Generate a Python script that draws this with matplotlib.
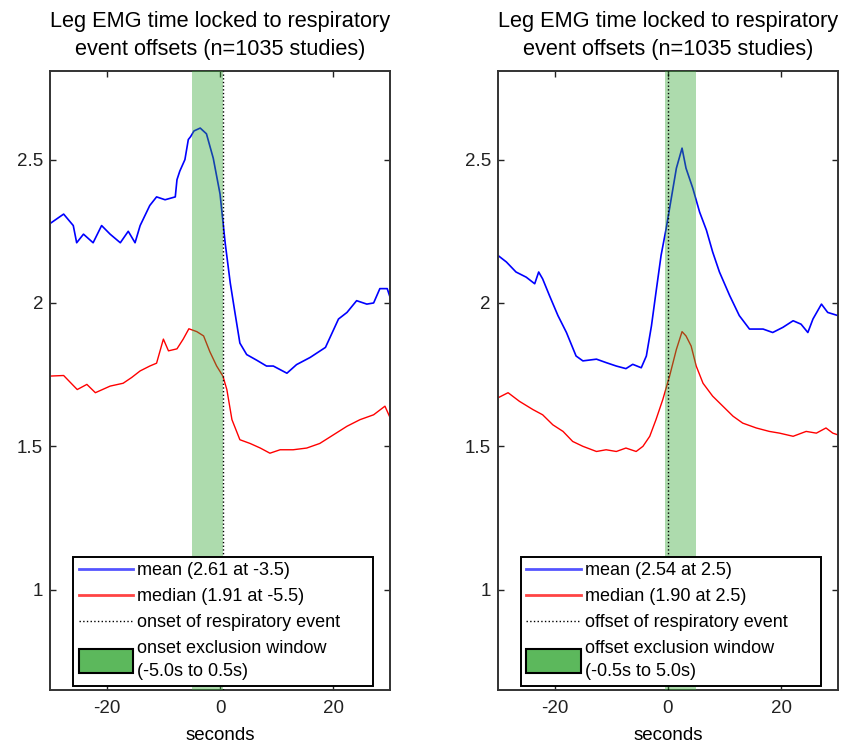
import matplotlib
matplotlib.use("Agg")
import matplotlib.pyplot as plt
import matplotlib.patches as mpatches
from matplotlib.lines import Line2D
from matplotlib.legend_handler import HandlerPatch

plt.rcParams['font.family'] = ['Liberation Sans', 'DejaVu Sans']

# left panel: locked to onsets
onset_mean_t = [-30, -27.6, -25.9, -25.3, -24.1, -22.4, -20.9, -19.4, -17.6, -16.2, -15, -14.1,
                -12.4, -11.2, -9.7, -7.9, -7.6, -7.1, -6.2, -5.6, -5.2, -4.6, -3.5, -2.4, -1.2,
                0, 0.9, 1.8, 2.6, 3.5, 4.7, 6.5, 8.2, 9.4, 11.8, 13.5, 15.9, 18.6, 20.9, 22.4,
                24.1, 25.9, 27.1, 28.2, 29.5, 30]
onset_mean = [2.277, 2.31, 2.27, 2.21, 2.24, 2.21, 2.27, 2.24, 2.21, 2.25, 2.21, 2.27,
              2.34, 2.37, 2.36, 2.37, 2.43, 2.46, 2.50, 2.57, 2.58, 2.60, 2.61, 2.59, 2.505,
              2.38, 2.21, 2.07, 1.97, 1.86, 1.82, 1.80, 1.78, 1.78, 1.755, 1.785, 1.81, 1.845,
              1.944, 1.967, 2.008, 1.996, 2.0, 2.05, 2.05, 2.02]

onset_median_t = [-30, -27.6, -25.2, -23.5, -22, -19.4, -17.1, -15.6, -14.1, -12.4, -11.2, -10,
                  -9.1, -7.6, -6.5, -5.5, -4.1, -2.9, -1.8, -0.6, 0.5, 1.2, 2.1, 3.5, 5.3, 7.1,
                  8.8, 10.6, 12.9, 15.3, 17.6, 20, 22.4, 24.7, 27.1, 29.1, 30]
onset_median = [1.745, 1.747, 1.698, 1.716, 1.687, 1.71, 1.72, 1.74, 1.763, 1.78, 1.79, 1.874,
                1.833, 1.84, 1.874, 1.91, 1.90, 1.885, 1.83, 1.78, 1.745, 1.698, 1.593, 1.523,
                1.51, 1.494, 1.476, 1.488, 1.488, 1.494, 1.51, 1.54, 1.57, 1.593, 1.61, 1.64, 1.60]

# right panel: locked to offsets
offset_mean_t = [-30, -28.5, -26.8, -25, -23.5, -22.8, -22.1, -20.9, -19.4, -17.9, -16.2, -15,
                 -12.6, -10.9, -9.1, -7.4, -6.2, -4.7, -3.8, -2.9, -2.1, -1.2, -0.3, 0.6, 1.5,
                 2.5, 3.2, 4.4, 5.6, 6.8, 7.9, 9.1, 10.9, 12.6, 14.4, 16.8, 18.5, 20.3, 22.1,
                 23.5, 24.7, 25.6, 27.1, 28.2, 30]
offset_mean = [2.166, 2.143, 2.108, 2.09, 2.067, 2.108, 2.084, 2.026, 1.956, 1.897, 1.815, 1.798,
               1.804, 1.792, 1.78, 1.771, 1.786, 1.774, 1.815, 1.92, 2.037, 2.166, 2.26, 2.365,
               2.47, 2.54, 2.47, 2.40, 2.317, 2.254, 2.178, 2.108, 2.026, 1.956, 1.909, 1.909,
               1.897, 1.915, 1.938, 1.926, 1.897, 1.944, 1.996, 1.967, 1.956]

offset_median_t = [-30, -28.2, -26.2, -23.8, -22.1, -20.3, -18.5, -16.8, -15, -12.6, -10.9, -9.1,
                   -7.4, -5.6, -4.4, -3.2, -2.1, -0.9, 0.3, 1.5, 2.5, 3.2, 4.1, 5, 6.2, 7.9, 9.7,
                   11.5, 13.2, 15.6, 17.9, 19.7, 22.1, 24.4, 26.2, 27.9, 29.1, 30]
offset_median = [1.669, 1.687, 1.657, 1.628, 1.61, 1.575, 1.552, 1.517, 1.5, 1.482, 1.488, 1.482,
                 1.494, 1.482, 1.5, 1.535, 1.593, 1.663, 1.745, 1.838, 1.90, 1.885, 1.85, 1.78,
                 1.72, 1.675, 1.64, 1.605, 1.581, 1.564, 1.552, 1.546, 1.535, 1.552, 1.546, 1.564,
                 1.546, 1.54]

title = "Leg EMG time locked to respiratory\nevent offsets (n=1035 studies)"
panels = [
    dict(mean=(onset_mean_t, onset_mean), median=(onset_median_t, onset_median),
         window=(-5.0, 0.5), event=0.5,
         labels=["mean (2.61 at -3.5)", "median (1.91 at -5.5)", "onset of respiratory event",
                 "onset exclusion window\n(-5.0s to 0.5s)"]),
    dict(mean=(offset_mean_t, offset_mean), median=(offset_median_t, offset_median),
         window=(-0.5, 5.0), event=0.0,
         labels=["mean (2.54 at 2.5)", "median (1.90 at 2.5)", "offset of respiratory event",
                 "offset exclusion window\n(-0.5s to 5.0s)"]),
]

band_col = (0.2, 0.65, 0.2)


def tall_box(legend, orig_handle, xdescent, ydescent, width, height, fontsize):
    return mpatches.Rectangle((-xdescent, -ydescent - 0.45 * height), width, 1.9 * height)


fig = plt.figure(figsize=(8.41, 7.43), dpi=100)
lefts = [0.0595, 0.592]
for p, x0 in zip(panels, lefts):
    ax = fig.add_axes([x0, 0.0713, 0.4043, 0.8335])
    ax.plot(*p["mean"], color="#0000ff", lw=1.2, zorder=2)
    ax.plot(*p["median"], color="#ff0000", lw=1.0, zorder=2)
    ax.axvspan(*p["window"], color=band_col, alpha=0.4, lw=0, zorder=3)
    ax.axvline(p["event"], color="k", ls=":", lw=1.0, zorder=4)
    ax.set_xlim(-30, 30)
    ax.set_ylim(0.65, 2.81)
    ax.set_xticks([-20, 0, 20])
    ax.set_xticklabels(["-20", "0", "20"])
    ax.set_yticks([1, 1.5, 2, 2.5])
    ax.set_yticklabels(["1", "1.5", "2", "2.5"])
    ax.tick_params(direction="in", top=True, right=True, length=4, width=1,
                   labelsize=13.5, colors="#222222")
    ax.tick_params(axis="x", pad=7.5)
    ax.tick_params(axis="y", pad=5)
    for s in ax.spines.values():
        s.set_linewidth(1.4)
        s.set_color("#333333")
    ax.set_xlabel("seconds", fontsize=13.5, labelpad=7)
    ax.set_title(title, fontsize=15.7, linespacing=1.45, pad=11)

    handles = [Line2D([], [], color="#5555ff", lw=2),
               Line2D([], [], color="#ff4444", lw=2),
               Line2D([], [], color="k", ls=":", lw=1),
               mpatches.Patch(facecolor="#5cb85c", edgecolor="k", lw=1.5)]
    leg = ax.legend(handles, p["labels"], loc="lower left", bbox_to_anchor=(0.068, 0.007, 0.882, 0.2),
                    mode="expand", borderaxespad=0, fontsize=13, handlelength=3.0,
                    handletextpad=0.25, labelspacing=0.5, borderpad=0.3, fancybox=False,
                    framealpha=1, edgecolor="k",
                    handler_map={mpatches.Patch: HandlerPatch(patch_func=tall_box)})
    for t in leg.get_texts():
        t.set_linespacing(1.45)
    leg.get_frame().set_linewidth(1.4)
    leg.set_zorder(10)

fig.savefig("out.png", dpi=100)
